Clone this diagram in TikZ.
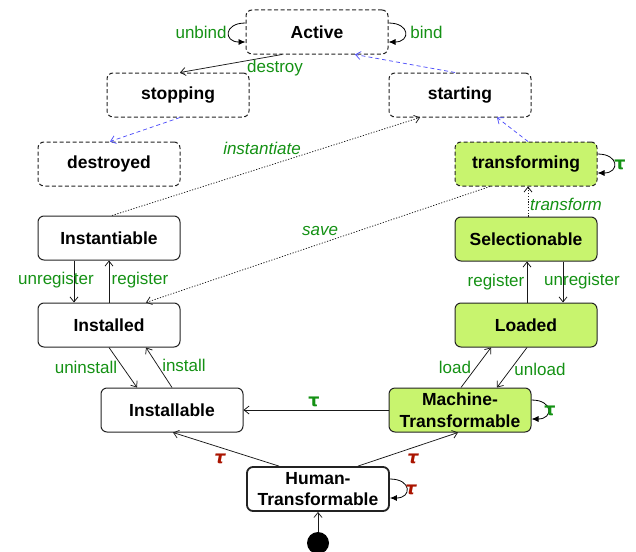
\documentclass[tikz,border=0pt]{standalone}
\usepackage{fontspec}
\setmainfont{Liberation Sans}
\newfontfamily\taufont{DejaVu Sans}
\usetikzlibrary{arrows.meta}
\definecolor{lime}{RGB}{200,244,110}
\definecolor{lblgreen}{RGB}{20,145,20}
\definecolor{taured}{RGB}{170,20,0}
\definecolor{bluedash}{RGB}{80,80,250}
\definecolor{border}{RGB}{35,35,35}
\begin{document}
\begin{tikzpicture}[x=1pt,y=-1pt,
  state/.style={draw=border, line width=1pt, rounded corners=6pt, minimum width=142pt, minimum height=44pt, inner sep=0pt, align=center, font=\fontsize{17.5}{21.5}\selectfont\bfseries},
  virt/.style={state, dash pattern=on 4pt off 2.5pt},
  filled/.style={fill=lime},
  lab/.style={text=lblgreen, font=\fontsize{17}{20}\selectfont, inner sep=0pt},
  ilab/.style={lab, font=\fontsize{17}{20}\selectfont\itshape},
  gtau/.style={text=lblgreen, font=\fontsize{17.5}{20}\selectfont\taufont\bfseries, inner sep=0pt},
  rtau/.style={text=taured, font=\fontsize{17.5}{20}\selectfont\taufont\bfseries\itshape, inner sep=0pt},
  tr/.style={draw=black!90, line width=0.75pt, -{Straight Barb[length=5pt,width=8pt]}},
  dtr/.style={tr, dash pattern=on 1.2pt off 1.6pt},
  btr/.style={tr, draw=bluedash, dash pattern=on 4pt off 3pt},
  loopy/.style={draw=black, line width=0.8pt, -{Latex[length=7pt,width=6pt]}}
]
\useasboundingbox (0,0) rectangle (636,551);

% states
\node[virt] (active) at (317,32) {Active};
\node[virt] (stopping) at (178,95) {stopping};
\node[virt] (starting) at (460,95) {starting};
\node[virt] (destroyed) at (109,164) {destroyed};
\node[virt,filled] (transforming) at (526,164) {transforming};
\node[state] (instantiable) at (109,238) {Instantiable};
\node[state,filled] (selectionable) at (526,239) {Selectionable};
\node[state] (installed) at (109,325) {Installed};
\node[state,filled] (loaded) at (526,325) {Loaded};
\node[state] (installable) at (172,410) {Installable};
\node[state,filled] (machine) at (460,410) {Machine-\\Transformable};
\node[state, line width=1.8pt] (human) at (318,489) {Human-\\Transformable};
\node[circle, fill=black, minimum size=22pt, inner sep=0pt] (init) at (318,543) {};

% self loops
\draw[loopy] ([yshift=9pt]active.west) .. controls +(-22,0) and +(-22,0) .. ([yshift=-10pt]active.west)
  node[lab, anchor=east] at (227,32) {unbind};
\draw[loopy] ([yshift=9pt]active.east) .. controls +(22,0) and +(22,0) .. ([yshift=-10pt]active.east)
  node[lab, anchor=west] at (410,32) {bind};
\draw[loopy] ([yshift=10pt]transforming.east) .. controls +(22,0) and +(22,0) .. ([yshift=-9pt]transforming.east)
  node[gtau] at (620,165) {τ};
\draw[loopy] ([yshift=10pt]machine.east) .. controls +(22,0) and +(22,0) .. ([yshift=-9pt]machine.east)
  node[gtau] at (550,411) {τ};
\draw[loopy] ([yshift=10pt]human.east) .. controls +(22,0) and +(22,0) .. ([yshift=-9pt]human.east)
  node[rtau] at (411,490) {τ};

% lifecycle (blue dashed)
\draw[btr] ([xshift=-5pt]starting.north) -- ([xshift=38pt]active.south);
\draw[btr] ([xshift=2pt]stopping.south) -- ([xshift=1pt]destroyed.north);
\draw[btr] ([xshift=2pt]transforming.north) -- ([xshift=37pt]starting.south);
\draw[tr] ([xshift=-35pt]active.south) -- ([xshift=2pt]stopping.north)
  node[lab] at (275,68) {destroy};

% dotted
\draw[dtr] ([xshift=3pt]instantiable.north) -- ([xshift=-40pt]starting.south)
  node[ilab] at (262,148) {instantiate};
\draw[dtr] ([xshift=-36pt]transforming.south) -- ([xshift=37pt]installed.north)
  node[ilab] at (320,231) {save};
\draw[dtr] ([xshift=2pt]selectionable.north) -- ([xshift=2pt]transforming.south)
  node[ilab] at (566,204) {transform};

% left column
\draw[tr] ([xshift=-35pt]instantiable.south) -- ([xshift=-35pt]installed.north)
  node[lab] at (56,280) {unregister};
\draw[tr] (installed.north) -- (instantiable.south)
  node[lab] at (140,280) {register};
\draw[tr] (installed.south) -- ([xshift=-35pt]installable.north)
  node[lab] at (86,367) {uninstall};
\draw[tr] (installable.north) -- ([xshift=37pt]installed.south)
  node[lab] at (184,365) {install};

% right column
\draw[tr] ([xshift=1pt]loaded.north) -- ([xshift=1pt]selectionable.south)
  node[lab] at (496,282) {register};
\draw[tr] ([xshift=37pt]selectionable.south) -- ([xshift=37pt]loaded.north)
  node[lab] at (582,281) {unregister};
\draw[tr] ([xshift=1pt]machine.north) -- ([xshift=-35pt]loaded.south)
  node[lab] at (455,367) {load};
\draw[tr] ([xshift=1pt]loaded.south) -- ([xshift=37pt]machine.north)
  node[lab] at (540,369) {unload};

% bottom
\draw[tr] (machine.west) -- (installable.east)
  node[gtau] at (314,402) {τ};
\draw[tr] ([xshift=-39pt]human.north) -- ([xshift=1pt]installable.south)
  node[rtau] at (220,459) {τ};
\draw[tr] ([xshift=40pt]human.north) -- ([xshift=-2pt]machine.south)
  node[rtau] at (413,459) {τ};
\draw[tr] (init) -- (human.south);
\end{tikzpicture}
\end{document}
